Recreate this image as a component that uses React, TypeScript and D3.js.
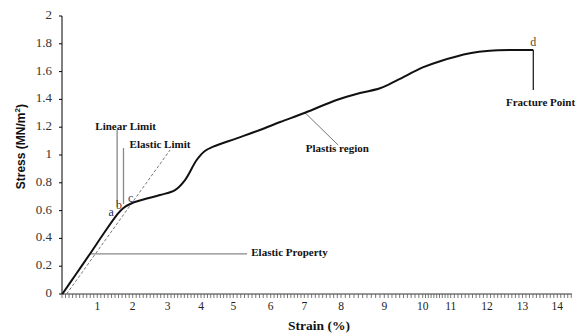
import React from "react";
import * as d3 from "d3";

// ---- data ----
const strain: number[] = [0.01, 0.4, 0.79, 1.19, 1.55, 1.73, 1.97, 2.35, 2.78, 3.22, 3.52, 3.87, 4.12, 4.38, 5.09, 5.71, 6.28, 7.02, 7.88, 8.44, 8.9, 9.35, 10.0, 10.62, 11.53, 12.08, 12.75, 13.31];
const stress: number[] = [0, 0.144, 0.288, 0.439, 0.568, 0.617, 0.653, 0.683, 0.712, 0.748, 0.82, 0.964, 1.029, 1.06, 1.12, 1.18, 1.237, 1.304, 1.396, 1.446, 1.48, 1.54, 1.63, 1.675, 1.732, 1.75, 1.755, 1.755];
const xTickValues: number[] = [1, 2, 3, 4, 5, 6, 7, 8, 9, 10, 11, 12, 13, 14];
const yTickValues: number[] = [0, 0.2, 0.4, 0.6, 0.8, 1, 1.2, 1.4, 1.6, 1.8, 2];
const dashedStrain: number[] = [0.13, 3.07];
const dashedStress: number[] = [0, 1.036];
const pointNames: string[] = ["a", "b", "c", "d"];
const pointStrain: number[] = [1.39, 1.61, 1.94, 13.31];
const pointStress: number[] = [0.583, 0.633, 0.683, 1.806];

const W = 577;
const H = 334;

export default function App() {
  // axis positions of the printed tick labels (the original axis is slightly irregular)
  const x = d3
    .scaleLinear()
    .domain(d3.range(0, 15))
    .range([62, 97.3, 132.7, 167.7, 201, 233.3, 270.7, 304.3, 341, 384.3, 422.7, 450.7, 487, 522.5, 557.3]);
  const y = d3.scaleLinear().domain([0, 2]).range([294, 16]);

  const pts: [number, number][] = strain.map((s, i) => [s, stress[i]]);
  const line = d3
    .line<[number, number]>()
    .x((d) => x(d[0]))
    .y((d) => y(d[1]))
    .curve(d3.curveCatmullRom.alpha(0.5));

  const minor = d3.range(0, 145).map((i) => i / 10);
  const serif = "'Liberation Serif', 'Times New Roman', serif";
  const sans = "'Liberation Sans', Arial, sans-serif";
  const pointColors = ["#27305a", "#7a4020", "#2c3f70", "#5a4a28"];

  const dStrain = pointStrain[3];

  return (
    <svg
      width={W}
      height={H}
      style={{ position: "absolute", left: 0, top: 0, background: "#fff" }}
    >
      <rect width={W} height={H} fill="#fff" />
      {/* y axis */}
      <line x1={x(0)} x2={x(0)} y1={y(0)} y2={y(2)} stroke="#000" strokeWidth={1} />
      {yTickValues.map((v) => (
        <g key={v}>
          <line x1={x(0) - 3} x2={x(0)} y1={y(v)} y2={y(v)} stroke="#000" />
          <text
            x={x(0) - 10}
            y={y(v)}
            textAnchor="end"
            dominantBaseline="middle"
            fontFamily={serif}
            fontSize={13}
            fill="#333"
          >
            {String(v)}
          </text>
        </g>
      ))}
      {/* x axis */}
      <line x1={x(0)} x2={x(14.42)} y1={y(0)} y2={y(0)} stroke="#333" strokeWidth={1} />
      {minor.map((v) => (
        <line key={v} x1={x(v)} x2={x(v)} y1={y(0)} y2={y(0) + 4} stroke="#555" strokeWidth={0.8} />
      ))}
      {xTickValues.map((v) => (
        <text
          key={v}
          x={x(v)}
          y={y(0) + 13}
          textAnchor="middle"
          dominantBaseline="middle"
          fontFamily={serif}
          fontSize={11.5}
          fill="#222"
        >
          {v}
        </text>
      ))}
      {/* axis titles */}
      <text
        x={x(7.4)}
        y={330}
        textAnchor="middle"
        fontFamily={serif}
        fontWeight="bold"
        fontSize={13.5}
        fill="#111"
      >
        Strain (%)
      </text>
      <text
        transform={`translate(25, ${y(1.06)}) rotate(-90)`}
        textAnchor="middle"
        fontFamily={sans}
        fontWeight="bold"
        fontSize={12}
        fill="#111"
      >
        Stress (MN/m
        <tspan dy={-5} fontSize={8}>2</tspan>
        <tspan dy={5}>)</tspan>
      </text>

      {/* dashed offset line */}
      <line
        x1={x(dashedStrain[0])}
        y1={y(dashedStress[0])}
        x2={x(dashedStrain[1])}
        y2={y(dashedStress[1])}
        stroke="#777"
        strokeWidth={1}
        strokeDasharray="3,2"
      />

      {/* annotation lines */}
      <line x1={x(0.79)} x2={x(5.37)} y1={y(0.288)} y2={y(0.288)} stroke="#888" strokeWidth={1.3} />
      <line x1={x(1.56)} x2={x(1.56)} y1={y(1.18)} y2={y(0.626)} stroke="#888" strokeWidth={1.3} />
      <line x1={x(1.74)} x2={x(1.74)} y1={y(1.05)} y2={y(0.647)} stroke="#888" strokeWidth={1.3} />
      <line x1={x(7.02)} x2={x(7.92)} y1={y(1.304)} y2={y(1.072)} stroke="#777" strokeWidth={1} />
      <line x1={x(dStrain)} x2={x(dStrain)} y1={y(1.755)} y2={y(1.468)} stroke="#111" strokeWidth={1.2} />

      {/* curve */}
      <path d={line(pts) || ""} fill="none" stroke="#111" strokeWidth={2} />

      {/* annotation texts */}
      <g fontFamily={serif} fontWeight="bold" fontSize={11} fill="#111">
        <text x={x(1.8)} y={y(1.2)} textAnchor="middle" dominantBaseline="middle">Linear Limit</text>
        <text x={x(2.78)} y={y(1.07)} textAnchor="middle" dominantBaseline="middle">Elastic Limit</text>
        <text x={x(5.48)} y={y(0.295)} textAnchor="start" dominantBaseline="middle">Elastic Property</text>
        <text x={x(7.9)} y={y(1.041)} textAnchor="middle" dominantBaseline="middle">Plastis region</text>
        <text x={x(13.52)} y={y(1.374)} textAnchor="middle" dominantBaseline="middle">Fracture Point</text>
      </g>
      {pointNames.map((n, i) => (
        <text
          key={n}
          x={x(pointStrain[i])}
          y={y(pointStress[i])}
          textAnchor="middle"
          dominantBaseline="middle"
          fontFamily={serif}
          fontSize={12}
          fill={pointColors[i]}
        >
          {n}
        </text>
      ))}
    </svg>
  );
}
